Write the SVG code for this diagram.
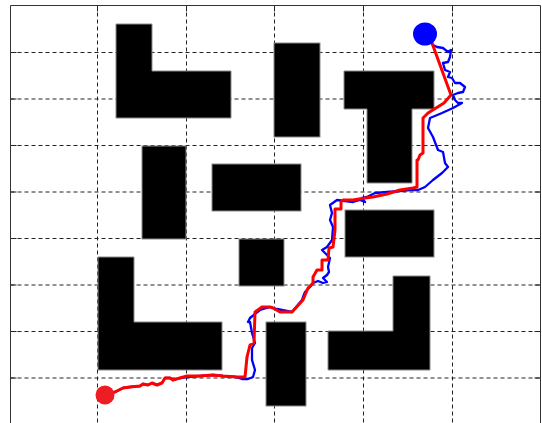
<svg xmlns="http://www.w3.org/2000/svg" width="542" height="423" viewBox="0 0 542 423">
<style>
.grid{stroke:#222;stroke-width:1;stroke-dasharray:4,3;fill:none}
.obs{fill:#000;stroke:#8a8a8a;stroke-width:1}
.frame{stroke:#333;stroke-width:1;fill:none}
.tick{stroke:#222;stroke-width:1}
.path{fill:none;stroke-linejoin:round;stroke-linecap:round}
</style>
<rect x="0" y="0" width="542" height="423" fill="#fff"/>
<g id="grid">
<path class="grid" d="M97.5,5.5V423 M186.5,5.5V423 M274.5,5.5V423 M363.5,5.5V423 M452.5,5.5V423"/>
<path class="grid" d="M10.5,52.5H540 M10.5,99H540 M10.5,145.5H540 M10.5,192H540 M10.5,238.5H540 M10.5,285H540 M10.5,331.5H540 M10.5,378H540"/>
<path class="tick" d="M97.5,5.5v6 M186.5,5.5v6 M274.5,5.5v6 M363.5,5.5v6 M452.5,5.5v6 M10.5,52.5h6 M10.5,99h6 M10.5,145.5h6 M10.5,192h6 M10.5,238.5h6 M10.5,285h6 M10.5,331.5h6 M10.5,378h6 M540.5,52.5h-6 M540.5,99h-6 M540.5,145.5h-6 M540.5,192h-6 M540.5,238.5h-6 M540.5,285h-6 M540.5,331.5h-6 M540.5,378h-6"/>
<path class="frame" d="M10.5,423V5.5H540.5V423"/>
</g>
<g id="obstacle-1"><path class="obs" d="M116,24H152V71H231V118H116Z"/></g>
<g id="obstacle-2"><rect class="obs" x="142" y="146" width="44" height="93"/></g>
<g id="obstacle-3"><rect class="obs" x="212" y="164" width="89" height="47"/></g>
<g id="obstacle-4"><rect class="obs" x="274" y="43" width="46" height="94"/></g>
<g id="obstacle-5"><path class="obs" d="M344,71H434V109H412V183H367V109H344Z"/></g>
<g id="obstacle-6"><rect class="obs" x="345" y="210" width="89" height="47"/></g>
<g id="obstacle-7"><rect class="obs" x="239" y="239" width="45" height="47"/></g>
<g id="obstacle-8"><path class="obs" d="M98,257H134V322H222V370H98Z"/></g>
<g id="obstacle-9"><rect class="obs" x="266" y="322" width="40" height="84"/></g>
<g id="obstacle-10"><path class="obs" d="M393,276H430V370H328V331H393Z"/></g>
<g id="paths">
<path class="path" stroke="#0000ff" stroke-width="2.3" d="M425,34 L433,45 437,47 443,48 448,52 451,50 450,57 448,62 443,63 445,70 450,72 448,77 452,78 455,83 460,83 465,87 463,92 458,93 453,95 455,100 458,103 462,103 453,108 442,113 430,118 428,128 433,137 438,150 443,152 445,163 448,167 442,173 433,180 425,187 418,190 410,190 400,191 387,192 375,193 367,197 362,198 365,202 360,200 353,202 345,201 337,200 330,205 332,213 330,220 333,227 332,240 327,247 322,250 325,253 330,258 328,267 329,272 327,275 323,278 327,282 323,283 318,281 313,283 310,287 305,292 303,297 302,300 292,312 277,309 270,307 260,310 250,318 248,322 250,322 252,333 255,343 252,348 252,360 255,370 253,377 248,379 242,379 236,377 223,376 213,375 200,376 187,377 180,378 173,380 170,378 165,378 162,383 157,385 152,383 148,385 143,384 140,386 130,387 123,388 115,392 105,395"/>
<path class="path" stroke="#ff0000" stroke-width="3" d="M425,34 L432,43 451,95 444,103 428,113 423,118 423,153 420,155 418,160 417,160 417,187 413,188 400,190 387,194 373,197 365,198 353,200 343,200 341,202 341,209 335,209 335,230 333,247 329,248 328,260 322,260 322,270 317,270 313,277 313,283 308,288 303,300 292,312 280,312 273,308 270,307 262,307 255,312 254,343 250,345 247,357 245,377 242,377 237,377 223,376 213,375 200,376 187,376 180,378 173,380 170,378 165,378 162,383 157,385 152,383 148,385 143,384 140,386 130,387 123,388 115,392 105,395"/>
</g>
<g id="goal"><ellipse cx="425" cy="34" rx="12" ry="11.5" fill="#0000ff"/></g>
<g id="start"><circle cx="105" cy="395" r="9.5" fill="#ee1d23"/></g>
</svg>
